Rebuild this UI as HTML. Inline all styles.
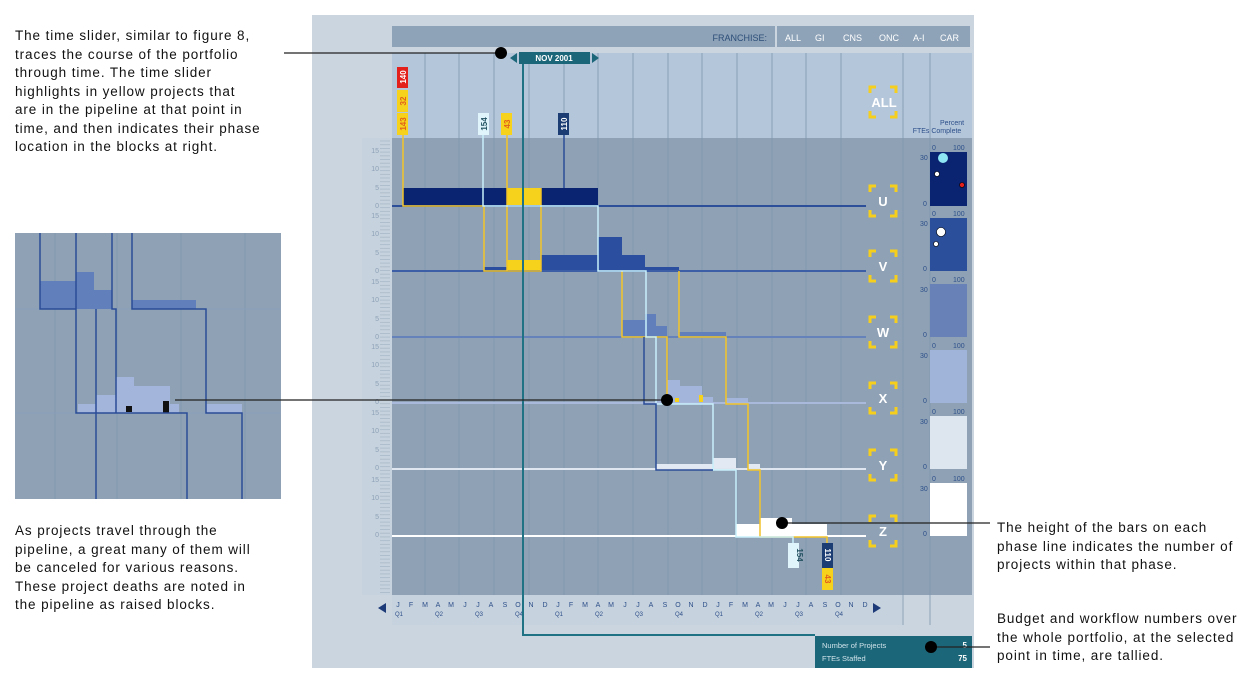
<!DOCTYPE html>
<html><head><meta charset="utf-8"><style>
html,body{margin:0;padding:0;background:#fff;width:1250px;height:673px;overflow:hidden}
.t{position:absolute;font-family:"Liberation Sans",sans-serif;font-size:13.5px;letter-spacing:0.9px;line-height:18.5px;color:#111;white-space:nowrap}
</style></head><body>
<div class="t" style="left:15px;top:27px">The time slider, similar to figure 8,<br>traces the course of the portfolio<br>through time. The time slider<br>highlights in yellow projects that<br>are in the pipeline at that point in<br>time, and then indicates their phase<br>location in the blocks at right.</div>
<div class="t" style="left:15px;top:522px">As projects travel through the<br>pipeline, a great many of them will<br>be canceled for various reasons.<br>These project deaths are noted in<br>the pipeline as raised blocks.</div>
<div class="t" style="left:997px;top:519px">The height of the bars on each<br>phase line indicates the number of<br>projects within that phase.</div>
<div class="t" style="left:997px;top:610px">Budget and workflow numbers over<br>the whole portfolio, at the selected<br>point in time, are tallied.</div>
<svg width="1250" height="673" style="position:absolute;left:0;top:0" font-family="Liberation Sans, sans-serif">
<defs>
<pattern id="tk" x="0" y="0" width="10" height="3.7" patternUnits="userSpaceOnUse"><rect x="0" y="0" width="10" height="0.8" fill="#a9b9c9"/></pattern>
<g id="br"><path d="M-13,-9 v-6 h6 M7,-15 h6 v6 M13,9 v6 h-6 M-7,15 h-6 v-6" stroke="#f5cf1c" stroke-width="3" fill="none"/></g>
</defs>
<rect x="312" y="15" width="662" height="653" fill="#cbd5df"/>
<rect x="392" y="26" width="383" height="21" fill="#8ea3b8"/>
<rect x="777" y="26" width="193" height="21" fill="#8ea3b8"/>
<text x="767" y="41" font-size="9" fill="#2d4d78" text-anchor="end">FRANCHISE:</text>
<g font-size="9" fill="#fff"><text x="785" y="41">ALL</text><text x="815" y="41">GI</text><text x="843" y="41">CNS</text><text x="879" y="41">ONC</text><text x="913" y="41">A-I</text><text x="940" y="41">CAR</text></g>
<rect x="392" y="53" width="580" height="85" fill="#b4c6da"/>
<rect x="392" y="138" width="580" height="457" fill="#8fa2b5"/>
<rect x="362" y="138" width="30" height="457" fill="#c6d2dd"/>
<rect x="380" y="140" width="10" height="455" fill="url(#tk)"/>
<g stroke="#7f96ad" stroke-width="1" opacity="0.8">
<path d="M425,53V625 M459,53V625 M494,53V625 M529,53V625 M564,53V625 M598,53V625 M633,53V625 M668,53V625 M702,53V625 M737,53V625 M772,53V625 M806,53V625 M841,53V625 M903,53V625 M930,53V625"/>
</g>
<g font-size="7" fill="#8ea2b8" text-anchor="end">
<text x="379" y="208">0</text><text x="379" y="190">5</text><text x="379" y="171">10</text><text x="379" y="153">15</text>
<text x="379" y="273">0</text><text x="379" y="255">5</text><text x="379" y="236">10</text><text x="379" y="218">15</text>
<text x="379" y="339">0</text><text x="379" y="321">5</text><text x="379" y="302">10</text><text x="379" y="284">15</text>
<text x="379" y="404">0</text><text x="379" y="386">5</text><text x="379" y="367">10</text><text x="379" y="349">15</text>
<text x="379" y="470">0</text><text x="379" y="452">5</text><text x="379" y="433">10</text><text x="379" y="415">15</text>
<text x="379" y="537">0</text><text x="379" y="519">5</text><text x="379" y="500">10</text><text x="379" y="482">15</text>
</g>
<rect x="392" y="595" width="510" height="30" fill="#c6d2dd"/>
<g font-size="7" fill="#2d4f8a" text-anchor="middle">
<text x="398" y="607">J</text><text x="411" y="607">F</text><text x="425" y="607">M</text><text x="438" y="607">A</text><text x="451" y="607">M</text><text x="465" y="607">J</text><text x="478" y="607">J</text><text x="491" y="607">A</text><text x="505" y="607">S</text><text x="518" y="607">O</text><text x="531" y="607">N</text><text x="545" y="607">D</text>
<text x="558" y="607">J</text><text x="571" y="607">F</text><text x="585" y="607">M</text><text x="598" y="607">A</text><text x="611" y="607">M</text><text x="625" y="607">J</text><text x="638" y="607">J</text><text x="651" y="607">A</text><text x="665" y="607">S</text><text x="678" y="607">O</text><text x="691" y="607">N</text><text x="705" y="607">D</text>
<text x="718" y="607">J</text><text x="731" y="607">F</text><text x="745" y="607">M</text><text x="758" y="607">A</text><text x="771" y="607">M</text><text x="785" y="607">J</text><text x="798" y="607">J</text><text x="811" y="607">A</text><text x="825" y="607">S</text><text x="838" y="607">O</text><text x="851" y="607">N</text><text x="865" y="607">D</text>
</g>
<g font-size="6" fill="#2d4f8a"><text x="395" y="616">Q1</text><text x="435" y="616">Q2</text><text x="475" y="616">Q3</text><text x="515" y="616">Q4</text><text x="555" y="616">Q1</text><text x="595" y="616">Q2</text><text x="635" y="616">Q3</text><text x="675" y="616">Q4</text><text x="715" y="616">Q1</text><text x="755" y="616">Q2</text><text x="795" y="616">Q3</text><text x="835" y="616">Q4</text></g>
<path d="M378,608 l8,-5 v10z M881,608 l-8,-5 v10z" fill="#1c3a78"/>
<rect x="403" y="188" width="195" height="17" fill="#0b2472"/>
<rect x="507" y="188" width="34" height="17" fill="#f7d21c"/>
<path d="M392,206H866" stroke="#2d4f9a" stroke-width="2"/>
<rect x="484" y="267" width="23" height="4" fill="#2b4f9e"/>
<rect x="507" y="260" width="34" height="11" fill="#f7d21c"/>
<rect x="541" y="255" width="57" height="16" fill="#2b4f9e"/>
<rect x="598" y="237" width="24" height="34" fill="#2b4f9e"/>
<rect x="622" y="255" width="23" height="16" fill="#2b4f9e"/>
<rect x="645" y="267" width="34" height="4" fill="#2b4f9e"/>
<path d="M392,271H866" stroke="#3b5ea6" stroke-width="2"/>
<rect x="622" y="320" width="23" height="17" fill="#607fbb"/>
<rect x="645" y="314" width="11" height="23" fill="#607fbb"/>
<rect x="656" y="326" width="11" height="11" fill="#607fbb"/>
<rect x="679" y="332" width="47" height="5" fill="#607fbb"/>
<path d="M392,337H866" stroke="#6582ba" stroke-width="2"/>
<rect x="656" y="399" width="11" height="3" fill="#a3b5da"/>
<rect x="667" y="380" width="13" height="22" fill="#a3b5da"/>
<rect x="680" y="386" width="22" height="16" fill="#a3b5da"/>
<rect x="702" y="397" width="11" height="5" fill="#a3b5da"/>
<rect x="726" y="398" width="22" height="4" fill="#a3b5da"/>
<rect x="675" y="398" width="4" height="4" fill="#f7d21c"/>
<rect x="699" y="395" width="4" height="7" fill="#f7d21c"/>
<path d="M392,403H866" stroke="#a8b9dc" stroke-width="2"/>
<rect x="656" y="464" width="57" height="5" fill="#e2e9f2"/>
<rect x="713" y="458" width="23" height="11" fill="#e2e9f2"/>
<rect x="748" y="464" width="12" height="5" fill="#e2e9f2"/>
<path d="M392,469H866" stroke="#dfe6ef" stroke-width="2"/>
<rect x="736" y="524" width="24" height="11" fill="#fff"/>
<rect x="760" y="518" width="32" height="17" fill="#fff"/>
<rect x="792" y="524" width="35" height="11" fill="#fff"/>
<path d="M392,536H866" stroke="#fff" stroke-width="2"/>
<path d="M403,135V206H484V271H507 M507,135V271H541V188 M622,271V337H667V402 M679,271V337H726V404H748V470H760V537H827V568" stroke="#f2c42a" stroke-width="1.5" fill="none"/>
<path d="M483,135V206H598V271H646V337H656V404H713V470H736V537H793V545" stroke="#c8f0fb" stroke-width="1.5" fill="none"/>
<path d="M564,135V188 M644,337V404H656V470H713" stroke="#2a4c97" stroke-width="1.5" fill="none"/>
<rect x="397" y="67" width="11" height="21" fill="#e3201c"/><text transform="translate(406,77) rotate(-90)" font-size="8" font-weight="bold" fill="#fff" text-anchor="middle">140</text>
<rect x="397" y="90" width="11" height="22" fill="#f7d21c"/><text transform="translate(406,101) rotate(-90)" font-size="8" font-weight="bold" fill="#e0601a" text-anchor="middle">32</text>
<rect x="397" y="113" width="11" height="22" fill="#f7d21c"/><text transform="translate(406,124) rotate(-90)" font-size="8" font-weight="bold" fill="#e0601a" text-anchor="middle">143</text>
<rect x="478" y="113" width="11" height="22" fill="#dff5fb"/><text transform="translate(487,124) rotate(-90)" font-size="8" font-weight="bold" fill="#1f4e5e" text-anchor="middle">154</text>
<rect x="501" y="113" width="11" height="22" fill="#f7d21c"/><text transform="translate(510,124) rotate(-90)" font-size="8" font-weight="bold" fill="#e0601a" text-anchor="middle">43</text>
<rect x="558" y="113" width="11" height="22" fill="#1b3d73"/><text transform="translate(567,124) rotate(-90)" font-size="8" font-weight="bold" fill="#fff" text-anchor="middle">110</text>
<rect x="788" y="543" width="11" height="25" fill="#dff5fb"/><text transform="translate(797,555) rotate(90)" font-size="8" font-weight="bold" fill="#1f4e5e" text-anchor="middle">154</text>
<rect x="822" y="543" width="11" height="25" fill="#1b3d73"/><text transform="translate(825,555) rotate(90)" font-size="8" font-weight="bold" fill="#fff" text-anchor="middle">110</text>
<rect x="822" y="568" width="11" height="22" fill="#f7d21c"/><text transform="translate(825,579) rotate(90)" font-size="8" font-weight="bold" fill="#e0601a" text-anchor="middle">43</text>
<path d="M523,60V635H815" stroke="#1f7283" stroke-width="2" fill="none"/>
<rect x="519" y="52" width="71" height="12" fill="#1c6679"/>
<text x="554" y="61" font-size="8" font-weight="bold" fill="#fff" text-anchor="middle">NOV 2001</text>
<path d="M510,58 l7,-5 v10z M599,58 l-7,-5 v10z" fill="#1c6679"/>
<rect x="815" y="636" width="157" height="32" fill="#1c6679"/>
<g font-size="7.5" fill="#cfe3ea"><text x="822" y="648">Number of Projects</text><text x="822" y="661">FTEs Staffed</text></g>
<g font-size="8" font-weight="bold" fill="#fff" text-anchor="end"><text x="967" y="648">5</text><text x="967" y="661">75</text></g>
<g font-size="13" font-weight="bold" fill="#fff" text-anchor="middle">
<use href="#br" x="883" y="102"/><text x="884" y="107">ALL</text>
<use href="#br" x="883" y="201"/><text x="883" y="206">U</text>
<use href="#br" x="883" y="266"/><text x="883" y="271">V</text>
<use href="#br" x="883" y="332"/><text x="883" y="337">W</text>
<use href="#br" x="883" y="398"/><text x="883" y="403">X</text>
<use href="#br" x="883" y="465"/><text x="883" y="470">Y</text>
<use href="#br" x="883" y="531"/><text x="883" y="536">Z</text>
</g>
<g font-size="7" fill="#2d4f8a" text-anchor="middle"><text x="952" y="125">Percent</text><text x="937" y="133">FTEs Complete</text></g>
<rect x="930" y="152" width="37" height="54" fill="#0b2472"/>
<rect x="930" y="218" width="37" height="53" fill="#2c4f9c"/>
<rect x="930" y="284" width="37" height="53" fill="#6882b8"/>
<rect x="930" y="350" width="37" height="53" fill="#a0b4da"/>
<rect x="930" y="416" width="37" height="53" fill="#dde5ef"/>
<rect x="930" y="483" width="37" height="53" fill="#fff"/>
<g font-size="7" fill="#2d4f8a">
<text x="932" y="150">0</text><text x="953" y="150">100</text><text x="920" y="160">30</text><text x="923" y="206">0</text>
<text x="932" y="216">0</text><text x="953" y="216">100</text><text x="920" y="226">30</text><text x="923" y="271">0</text>
<text x="932" y="282">0</text><text x="953" y="282">100</text><text x="920" y="292">30</text><text x="923" y="337">0</text>
<text x="932" y="348">0</text><text x="953" y="348">100</text><text x="920" y="358">30</text><text x="923" y="403">0</text>
<text x="932" y="414">0</text><text x="953" y="414">100</text><text x="920" y="424">30</text><text x="923" y="469">0</text>
<text x="932" y="481">0</text><text x="953" y="481">100</text><text x="920" y="491">30</text><text x="923" y="536">0</text>
</g>
<circle cx="943" cy="158" r="5" fill="#8ee6f5"/>
<circle cx="937" cy="174" r="2.5" fill="#fff" stroke="#000" stroke-width="0.6"/>
<circle cx="962" cy="185" r="2.5" fill="#e3201c" stroke="#000" stroke-width="0.6"/>
<circle cx="941" cy="232" r="4.5" fill="#fff" stroke="#000" stroke-width="0.6"/>
<circle cx="936" cy="244" r="2.5" fill="#fff" stroke="#000" stroke-width="0.6"/>
<rect x="15" y="233" width="266" height="266" fill="#8fa2b5"/>
<g stroke="#7f96ad" opacity="0.8"><path d="M55,233V499 M117,233V499 M181,233V499 M245,233V499"/></g>
<g stroke="#8aa0bb"><path d="M15,309H281 M15,413H281"/></g>
<rect x="40" y="281" width="36" height="28" fill="#607fbb"/>
<rect x="76" y="272" width="18" height="37" fill="#607fbb"/>
<rect x="94" y="290" width="18" height="19" fill="#607fbb"/>
<rect x="132" y="300" width="64" height="9" fill="#607fbb"/>
<rect x="78" y="404" width="18" height="9" fill="#a3b5da"/>
<rect x="96" y="395" width="20" height="18" fill="#a3b5da"/>
<rect x="116" y="377" width="18" height="36" fill="#a3b5da"/>
<rect x="134" y="386" width="36" height="27" fill="#a3b5da"/>
<rect x="170" y="404" width="9" height="9" fill="#a3b5da"/>
<rect x="206" y="404" width="36" height="9" fill="#a3b5da"/>
<rect x="126" y="406" width="6" height="6" fill="#111"/>
<rect x="163" y="401" width="6" height="12" fill="#111"/>
<path d="M40,233V309H76V413H187V499 M76,233V309 M96,309V499 M112,233V309H116V413 M132,233V309H206V413H242V499" stroke="#2a4c97" stroke-width="1.5" fill="none"/>
<g stroke="#222" stroke-width="1.3"><path d="M284,53H500 M175,400H667 M782,523H990 M930,647H990"/></g>
<g fill="#000"><circle cx="501" cy="53" r="6"/><circle cx="667" cy="400" r="6"/><circle cx="782" cy="523" r="6"/><circle cx="931" cy="647" r="6"/></g>
</svg>
</body></html>
